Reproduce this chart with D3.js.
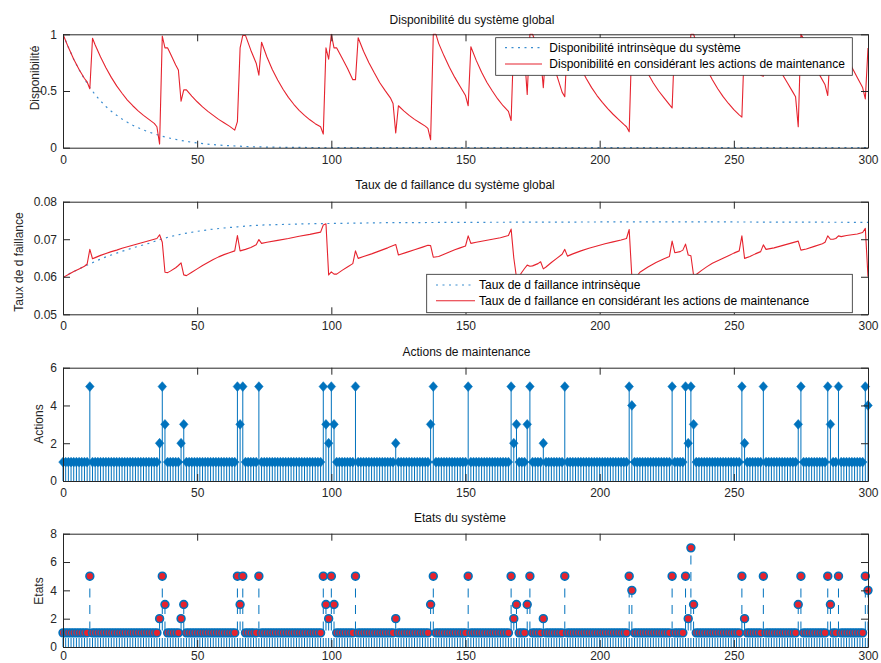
<!DOCTYPE html>
<html><head><meta charset="utf-8">
<script src="https://cdn.jsdelivr.net/npm/d3@7"></script>
<style>body{margin:0;background:#fff;} svg{display:block;}</style>
</head><body>
<svg id="c" width="881" height="663"></svg>
<script>
// ---------------- DATA ----------------
const xTicks = [0, 50, 100, 150, 200, 250, 300];
const yTicks1 = [0, 0.5, 1];
const yTicks2 = [0.05, 0.06, 0.07, 0.08];
const yTicks3 = [0, 2, 4, 6];
const yTicks4 = [0, 2, 4, 6, 8];

const titles = ["Disponibilité du système global", "Taux de d faillance du système global", "Actions de maintenance", "Etats du système"];
const yLabels = ["Disponibilité", "Taux de d faillance", "Actions", "Etats"];
const legend1 = ["Disponibilité intrinsèque du système", "Disponibilité en considérant les actions de maintenance"];
const legend2 = ["Taux de d faillance intrinsèque", "Taux de d faillance en considérant les actions de maintenance"];

// intrinsic availability [t, value]
const availIntr = [[0,1.000],[2,0.885],[4,0.780],[6,0.688],[8,0.606],[10,0.530],[12,0.468],[14,0.412],[16,0.363],[18,0.322],[20,0.286],[22,0.253],[24,0.224],[26,0.198],[28,0.176],[30,0.156],[32,0.138],[34,0.122],[36,0.108],[38,0.095],[40,0.083],[42,0.073],[44,0.064],[46,0.056],[48,0.048],[50,0.042],[55,0.029],[60,0.020],[65,0.014],[70,0.009],[75,0.006],[80,0.004],[90,0.002],[100,0.001],[110,0.0005],[120,0],[300,0]];

// availability with maintenance [t, value]
const availMaint = [[0,1.000],[2,0.885],[4,0.780],[6,0.690],[8,0.610],[9,0.580],[10,0.520],[11,0.965],[12,0.905],[14,0.800],[16,0.705],[18,0.620],[20,0.545],[22,0.480],[24,0.420],[26,0.370],[28,0.325],[30,0.285],[32,0.250],[34,0.215],[35,0.185],[36,0.032],[37,0.985],[38,0.880],[39,0.880],[40,0.830],[41,0.780],[42,0.730],[43,0.685],[44,0.410],[45,0.510],[46,0.510],[48,0.455],[50,0.405],[52,0.360],[54,0.320],[56,0.285],[58,0.250],[60,0.220],[62,0.190],[64,0.155],[65,0.230],[66,0.880],[67,0.990],[68,0.990],[70,0.860],[72,0.745],[73,0.640],[74,0.930],[76,0.800],[78,0.690],[80,0.597],[82,0.515],[84,0.444],[86,0.383],[88,0.330],[90,0.285],[92,0.246],[94,0.212],[96,0.185],[97,0.120],[98,0.880],[99,0.780],[100,1.000],[101,0.880],[102,0.880],[104,0.790],[106,0.700],[108,0.600],[109,0.600],[110,0.970],[112,0.850],[114,0.750],[116,0.660],[118,0.575],[120,0.505],[122,0.440],[123,0.390],[124,0.130],[125,0.370],[127,0.325],[129,0.285],[131,0.250],[133,0.220],[135,0.190],[136,0.170],[137,0.070],[138,1.000],[139,1.000],[140,0.920],[142,0.810],[144,0.710],[146,0.620],[148,0.540],[150,0.460],[151,0.370],[152,0.890],[154,0.770],[156,0.665],[158,0.575],[160,0.500],[162,0.430],[164,0.370],[166,0.320],[167,0.240],[168,0.960],[170,0.880],[172,0.810],[173,0.470],[174,1.000],[175,1.000],[177,0.870],[178,0.800],[179,0.530],[180,0.880],[182,0.760],[184,0.640],[186,0.490],[187,0.450],[188,0.960],[189,0.910],[191,0.800],[193,0.700],[195,0.610],[197,0.530],[199,0.460],[201,0.400],[203,0.345],[205,0.295],[207,0.250],[209,0.205],[210,0.185],[211,0.140],[212,0.950],[213,0.900],[214,0.850],[216,0.750],[218,0.655],[220,0.570],[222,0.500],[224,0.440],[226,0.380],[227,0.350],[228,0.960],[230,0.860],[231,0.810],[232,0.720],[233,0.680],[234,1.000],[235,1.000],[236,0.930],[238,0.800],[240,0.690],[242,0.600],[244,0.520],[246,0.450],[248,0.390],[250,0.335],[252,0.290],[253,0.270],[254,0.960],[255,0.920],[256,0.850],[258,0.740],[260,0.640],[261,0.630],[262,0.950],[264,0.850],[266,0.750],[268,0.650],[270,0.570],[272,0.490],[273,0.450],[274,0.185],[275,1.000],[276,0.960],[278,0.830],[280,0.730],[282,0.640],[284,0.555],[285,0.460],[286,0.900],[288,0.800],[289,0.760],[290,0.950],[292,0.820],[294,0.710],[296,0.620],[298,0.530],[299,0.430],[300,0.880]];

// intrinsic failure rate [t, value]
const hazIntr = [[0,0.0599],[2,0.0607],[4,0.0614],[6,0.0621],[8,0.0628],[10,0.0634],[12,0.0641],[14,0.0647],[16,0.0653],[18,0.0658],[20,0.0663],[22,0.0668],[24,0.0672],[26,0.0677],[28,0.0681],[30,0.0685],[32,0.0689],[34,0.0694],[36,0.0699],[38,0.0703],[40,0.0707],[45,0.0715],[50,0.0721],[55,0.0726],[60,0.0730],[65,0.0733],[70,0.0736],[75,0.0738],[80,0.0739],[90,0.0741],[100,0.0742],[120,0.0744],[150,0.0745],[200,0.0746],[250,0.0746],[300,0.0745]];

// failure rate with maintenance [t, value]
const hazMaint = [[0,0.0598],[2,0.0606],[4,0.0614],[6,0.0621],[8,0.0628],[9,0.0634],[10,0.0673],[11,0.0648],[12,0.0651],[14,0.0657],[16,0.0662],[18,0.0667],[20,0.0671],[22,0.0676],[24,0.0680],[26,0.0684],[28,0.0688],[30,0.0692],[32,0.0696],[34,0.0700],[35,0.0702],[36,0.0712],[37,0.0692],[38,0.0612],[39,0.0611],[40,0.0615],[42,0.0624],[43,0.0630],[44,0.0637],[45,0.0605],[46,0.0603],[48,0.0612],[50,0.0621],[52,0.0630],[54,0.0638],[56,0.0646],[58,0.0653],[60,0.0659],[62,0.0664],[64,0.0669],[65,0.0710],[66,0.0669],[68,0.0673],[70,0.0678],[72,0.0685],[73,0.0699],[74,0.0689],[76,0.0692],[80,0.0697],[84,0.0702],[88,0.0708],[92,0.0713],[96,0.0719],[97,0.0738],[98,0.0741],[99,0.0605],[100,0.0613],[101,0.0607],[102,0.0607],[104,0.0617],[106,0.0626],[108,0.0635],[109,0.0669],[110,0.0649],[112,0.0654],[115,0.0661],[118,0.0669],[121,0.0677],[124,0.0686],[125,0.0658],[128,0.0665],[131,0.0672],[134,0.0679],[136,0.0684],[137,0.0683],[138,0.0652],[140,0.0654],[142,0.0660],[144,0.0666],[146,0.0672],[148,0.0677],[150,0.0682],[151,0.0709],[152,0.0689],[154,0.0692],[157,0.0696],[160,0.0700],[163,0.0704],[166,0.0710],[167,0.0727],[168,0.0650],[169,0.0598],[170,0.0601],[171,0.0612],[172,0.0622],[173,0.0631],[174,0.0628],[175,0.0629],[177,0.0635],[178,0.0640],[179,0.0621],[180,0.0626],[182,0.0638],[184,0.0649],[186,0.0660],[187,0.0673],[188,0.0655],[190,0.0661],[193,0.0669],[196,0.0676],[199,0.0682],[202,0.0688],[205,0.0693],[208,0.0698],[210,0.0702],[211,0.0726],[212,0.0599],[213,0.0598],[214,0.0603],[215,0.0612],[218,0.0626],[221,0.0638],[224,0.0648],[226,0.0654],[227,0.0695],[228,0.0664],[230,0.0667],[231,0.0671],[232,0.0687],[233,0.0658],[234,0.0656],[235,0.0604],[236,0.0606],[238,0.0617],[240,0.0627],[242,0.0636],[245,0.0646],[248,0.0656],[250,0.0663],[252,0.0669],[253,0.0709],[254,0.0649],[256,0.0654],[258,0.0661],[260,0.0667],[261,0.0685],[262,0.0673],[265,0.0677],[268,0.0683],[271,0.0689],[274,0.0695],[275,0.0671],[277,0.0674],[280,0.0681],[283,0.0688],[284,0.0692],[285,0.0709],[286,0.0700],[287,0.0700],[288,0.0702],[289,0.0709],[290,0.0707],[292,0.0710],[294,0.0712],[296,0.0714],[298,0.0718],[299,0.0729],[300,0.0600]];

// maintenance actions, t = 0..300
const actions = [
1,1,1,1,1,1,1,1,1,1, 5,1,1,1,1,1,1,1,1,1, 1,1,1,1,1,1,1,1,1,1, 1,1,1,1,1,1,2,5,3,1,
1,1,1,1,2,3,1,1,1,1, 1,1,1,1,1,1,1,1,1,1, 1,1,1,1,1,5,3,5,1,1, 1,1,1,5,1,1,1,1,1,1,
1,1,1,1,1,1,1,1,1,1, 1,1,1,1,1,1,1,5,3,2, 5,3,1,1,1,1,1,1,1,5, 1,1,1,1,1,1,1,1,1,1,
1,1,1,1,2,1,1,1,1,1, 1,1,1,1,1,1,1,3,5,1, 1,1,1,1,1,1,1,1,1,1, 1,5,1,1,1,1,1,1,1,1,
1,1,1,1,1,1,1,5,2,3, 1,1,1,3,5,1,1,1,1,2, 1,1,1,1,1,1,1,5,1,1, 1,1,1,1,1,1,1,1,1,1,
1,1,1,1,1,1,1,1,1,1, 1,5,4,1,1,1,1,1,1,1, 1,1,1,1,1,1,1,5,1,1, 1,1,5,2,5,3,1,1,1,1,
1,1,1,1,1,1,1,1,1,1, 1,1,1,5,2,1,1,1,1,1, 1,5,1,1,1,1,1,1,1,1, 1,1,1,1,3,5,1,1,1,1,
1,1,1,1,1,5,3,1,1,5, 1,1,1,1,1,1,1,1,1,5, 4];

// system states, t = 0..300
const states = [
1,1,1,1,1,1,1,1,1,1, 5,1,1,1,1,1,1,1,1,1, 1,1,1,1,1,1,1,1,1,1, 1,1,1,1,1,1,2,5,3,1,
1,1,1,1,2,3,1,1,1,1, 1,1,1,1,1,1,1,1,1,1, 1,1,1,1,1,5,3,5,1,1, 1,1,1,5,1,1,1,1,1,1,
1,1,1,1,1,1,1,1,1,1, 1,1,1,1,1,1,1,5,3,2, 5,3,1,1,1,1,1,1,1,5, 1,1,1,1,1,1,1,1,1,1,
1,1,1,1,2,1,1,1,1,1, 1,1,1,1,1,1,1,3,5,1, 1,1,1,1,1,1,1,1,1,1, 1,5,1,1,1,1,1,1,1,1,
1,1,1,1,1,1,1,5,2,3, 1,1,1,3,5,1,1,1,1,2, 1,1,1,1,1,1,1,5,1,1, 1,1,1,1,1,1,1,1,1,1,
1,1,1,1,1,1,1,1,1,1, 1,5,4,1,1,1,1,1,1,1, 1,1,1,1,1,1,1,5,1,1, 1,1,5,2,7,3,1,1,1,1,
1,1,1,1,1,1,1,1,1,1, 1,1,1,5,2,1,1,1,1,1, 1,5,1,1,1,1,1,1,1,1, 1,1,1,1,3,5,1,1,1,1,
1,1,1,1,1,5,3,1,1,5, 1,1,1,1,1,1,1,1,1,5, 4];

// ---------------- DRAW ----------------
const FONT = '"Liberation Sans", Arial, Helvetica, sans-serif';
const AX = '#262626', BLUE = '#0072BD', DOT = '#3b8dd0', RED = '#e6232e';
const L = 63, R = 868;
const svg = d3.select('#c');
const x = d3.scaleLinear().domain([0, 300]).range([L, R]);

function makePanel(i, top, bottom, ydom, clip) {
  const y = d3.scaleLinear().domain(ydom).range([bottom, top]);
  const g = svg.append('g');
  const data = g.append('g');
  if (clip) {
    g.append('clipPath').attr('id', 'clip' + i).append('rect')
      .attr('x', L).attr('y', top - 1).attr('width', R - L + 1).attr('height', bottom - top + 2);
    data.attr('clip-path', `url(#clip${i})`);
  }
  return { y, g, data, top, bottom };
}

function drawAxes(p, yticks, yfmt, pad) {
  const { g, y, top, bottom } = p;
  const ax = (a, tr) => {
    const s = g.append('g').attr('transform', tr).call(a);
    s.selectAll('path,line').attr('stroke', AX).attr('stroke-width', 1);
    s.selectAll('text').attr('fill', AX).style('font-size', '12px').style('font-family', FONT);
    return s;
  };
  ax(d3.axisBottom(x).tickValues(xTicks).tickSizeInner(-7).tickSizeOuter(0).tickPadding(pad).tickFormat(d3.format('d')), `translate(0,${bottom})`);
  ax(d3.axisTop(x).tickValues(xTicks).tickSizeInner(-7).tickSizeOuter(0).tickFormat(''), `translate(0,${top})`);
  ax(d3.axisLeft(y).tickValues(yticks).tickSizeInner(-7).tickSizeOuter(0).tickPadding(6).tickFormat(yfmt), `translate(${L},0)`);
  ax(d3.axisRight(y).tickValues(yticks).tickSizeInner(-7).tickSizeOuter(0).tickFormat(''), `translate(${R},0)`);
}

function title(txt, cx, by) {
  svg.append('text').attr('x', cx).attr('y', by).attr('text-anchor', 'middle')
    .style('font-family', FONT).style('font-size', '12px').attr('fill', '#111').text(txt);
}
function ylabel(txt, bx, cy) {
  svg.append('text').attr('transform', `translate(${bx},${cy}) rotate(-90)`).attr('text-anchor', 'middle')
    .style('font-family', FONT).style('font-size', '12px').attr('fill', '#262626').text(txt);
}
function legend(bx, by, bw, bh, rows, sx0, sx1, tx, styles) {
  const g = svg.append('g');
  g.append('rect').attr('x', bx).attr('y', by).attr('width', bw).attr('height', bh)
    .attr('fill', '#fff').attr('stroke', AX).attr('stroke-width', 0.8);
  rows.forEach((r, k) => {
    const yy = r.y;
    const ln = g.append('line').attr('x1', sx0).attr('x2', sx1).attr('y1', yy).attr('y2', yy)
      .attr('stroke', styles[k].c).attr('stroke-width', styles[k].w);
    if (styles[k].d) ln.attr('stroke-dasharray', styles[k].d);
    g.append('text').attr('x', tx).attr('y', yy + 4.2).style('font-family', FONT).style('font-size', '12px')
      .attr('fill', '#000').text(r.t);
  });
}

const line = (y) => d3.line().x(d => x(d[0])).y(d => y(d[1]));

// Panel 1
const p1 = makePanel(1, 34.3, 147.7, [0, 1], true);
p1.data.append('path').datum(availIntr).attr('d', line(p1.y)).attr('fill', 'none')
  .attr('stroke', DOT).attr('stroke-width', 1.2).attr('stroke-dasharray', '2,4.5');
p1.data.append('path').datum(availMaint).attr('d', line(p1.y)).attr('fill', 'none')
  .attr('stroke', RED).attr('stroke-width', 1.1).attr('stroke-linejoin', 'round');
drawAxes(p1, yTicks1, d3.format(''), 7.5);
title(titles[0], 472, 24);
ylabel(yLabels[0], 39, 78);
legend(495.7, 37.7, 356.6, 37.6,
  [{ t: legend1[0], y: 47.7 }, { t: legend1[1], y: 64 }], 505, 542, 549.3,
  [{ c: DOT, w: 1.2, d: '2,4.5' }, { c: RED, w: 1.1 }]);

// Panel 2
const p2 = makePanel(2, 201.7, 314.3, [0.05, 0.08], true);
p2.data.append('path').datum(hazIntr).attr('d', line(p2.y)).attr('fill', 'none')
  .attr('stroke', DOT).attr('stroke-width', 1.2).attr('stroke-dasharray', '2,4.5');
p2.data.append('path').datum(hazMaint).attr('d', line(p2.y)).attr('fill', 'none')
  .attr('stroke', RED).attr('stroke-width', 1.1).attr('stroke-linejoin', 'round');
drawAxes(p2, yTicks2, d3.format('.2f'), 7.5);
title(titles[1], 455, 189);
ylabel(yLabels[1], 23, 262);
legend(426.7, 274.3, 425.6, 38.4,
  [{ t: legend2[0], y: 285 }, { t: legend2[1], y: 300.7 }], 436, 475, 479,
  [{ c: DOT, w: 1.2, d: '2,4.5' }, { c: RED, w: 1.1 }]);

// Panel 3
const p3 = makePanel(3, 367.7, 481, [0, 6], false);
const t3 = actions.map((v, i) => [i, v]);
p3.data.selectAll('line.stem').data(t3).join('line').attr('class', 'stem')
  .attr('x1', d => x(d[0])).attr('x2', d => x(d[0]))
  .attr('y1', p3.y(0)).attr('y2', d => p3.y(d[1]))
  .attr('stroke', BLUE).attr('stroke-width', 1);
const diamond = 'M0,-4.9L4.3,0L0,4.9L-4.3,0Z';
p3.data.selectAll('path.mk').data(t3).join('path').attr('class', 'mk')
  .attr('d', diamond).attr('transform', d => `translate(${x(d[0])},${p3.y(d[1])})`)
  .attr('fill', BLUE).attr('stroke', BLUE).attr('stroke-width', 0.5);
drawAxes(p3, yTicks3, d3.format('d'), 7.5);
title(titles[2], 466.5, 356);
ylabel(yLabels[2], 42.5, 424);

// Panel 4
const p4 = makePanel(4, 533.7, 647, [0, 8], false);
const t4 = states.map((v, i) => [i, v]);
p4.data.selectAll('line.stem').data(t4).join('line').attr('class', 'stem')
  .attr('x1', d => x(d[0])).attr('x2', d => x(d[0]))
  .attr('y1', p4.y(0)).attr('y2', d => p4.y(d[1]))
  .attr('stroke', BLUE).attr('stroke-width', 1).attr('stroke-dasharray', '9,7.5');
p4.data.selectAll('circle.mk').data(t4).join('circle').attr('class', 'mk')
  .attr('cx', d => x(d[0])).attr('cy', d => p4.y(d[1])).attr('r', 3.9)
  .attr('fill', RED).attr('stroke', BLUE).attr('stroke-width', 1.6);
drawAxes(p4, yTicks4, d3.format('d'), 4.5);
title(titles[3], 460, 522);
ylabel(yLabels[3], 42.5, 591);
</script>
</body></html>
